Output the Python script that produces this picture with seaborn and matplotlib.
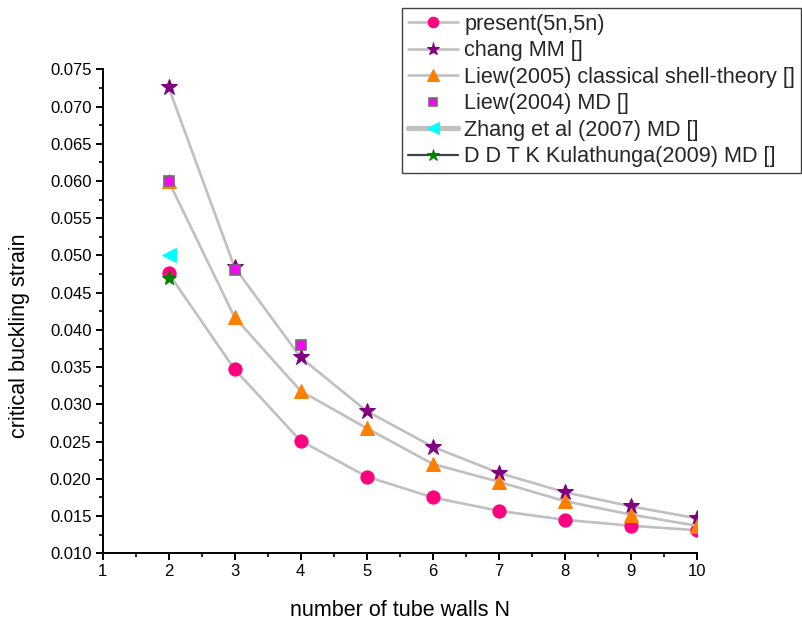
import matplotlib
matplotlib.use("Agg")
import matplotlib.pyplot as plt
import seaborn as sns
import numpy as np
from matplotlib.ticker import MultipleLocator, FormatStrFormatter

# ---- data ----
n_walls = [2, 3, 4, 5, 6, 7, 8, 9, 10]
present = [0.0476, 0.0347, 0.0251, 0.0203, 0.0175, 0.0157, 0.0145, 0.0137, 0.0131]
chang = [0.0726, 0.0484, 0.0363, 0.0291, 0.0243, 0.0208, 0.0182, 0.0163, 0.0147]
liew2005 = [0.0600, 0.0417, 0.0318, 0.0268, 0.0220, 0.0196, 0.0170, 0.0152, 0.0137]
liew2004_x = [2, 3, 4]
liew2004 = [0.0600, 0.0480, 0.0380]
zhang_x = [2]
zhang = [0.0500]
kula_x = [2]
kula = [0.0470]

labels = ["present(5n,5n)", "chang MM []", "Liew(2005) classical shell-theory []",
          "Liew(2004) MD []", "Zhang et al (2007) MD []", "D D T K Kulathunga(2009) MD []"]

sns.set_style("white")
plt.rcParams["font.family"] = ["Liberation Sans", "DejaVu Sans"]

fig = plt.figure(figsize=(8.03, 6.26), dpi=100)
ax = fig.add_axes([102.5 / 803, 1 - 553.3 / 626, (697 - 102.5) / 803, (553.3 - 69.3) / 626])

gray = "#c0c0c0"
lw = 1.9

sns.lineplot(x=n_walls, y=present, ax=ax, color=gray, lw=lw, marker="o", markersize=9.5,
             markerfacecolor="#ff0080", markeredgecolor="#ff0080", label=labels[0])
sns.lineplot(x=n_walls, y=chang, ax=ax, color=gray, lw=lw, marker="*", markersize=12,
             markerfacecolor="#800080", markeredgecolor="#800080", label=labels[1])
sns.lineplot(x=n_walls, y=liew2005, ax=ax, color=gray, lw=lw, marker="^", markersize=10.5,
             markerfacecolor="#ff8000", markeredgecolor="#ff8000", label=labels[2])
sns.lineplot(x=liew2004_x, y=liew2004, ax=ax, color=gray, linestyle="", marker="s", markersize=7,
             markerfacecolor="#ff00ff", markeredgecolor="#707070", markeredgewidth=1.2,
             label=labels[3])
sns.lineplot(x=zhang_x, y=zhang, ax=ax, color=gray, lw=3.8, marker="<", markersize=10.5,
             markerfacecolor="#00ffff", markeredgecolor="#00ffff", label=labels[4])
sns.lineplot(x=kula_x, y=kula, ax=ax, color="#404040", lw=1.6, marker="*", markersize=11,
             markerfacecolor="#008000", markeredgecolor="#008000", label=labels[5])

ax.set_xlim(1, 10)
ax.set_ylim(0.010, 0.075)
ax.xaxis.set_major_locator(MultipleLocator(1))
ax.xaxis.set_minor_locator(MultipleLocator(0.5))
ax.yaxis.set_major_locator(MultipleLocator(0.005))
ax.yaxis.set_minor_locator(MultipleLocator(0.0025))
ax.yaxis.set_major_formatter(FormatStrFormatter("%.3f"))

for s in ["top", "right"]:
    ax.spines[s].set_visible(False)
for s in ["left", "bottom"]:
    ax.spines[s].set_linewidth(1.4)
    ax.spines[s].set_color("black")

ax.tick_params(axis="both", which="major", direction="out", length=5, width=1.4,
               labelsize=12, colors="black", pad=3, bottom=True, left=True)
ax.tick_params(axis="both", which="minor", direction="out", length=3, width=1.2,
               colors="black", bottom=True, left=True)

ax.set_xlabel("number of tube walls N", fontsize=15.5, color="black")
ax.set_ylabel("critical buckling strain", fontsize=15.5, color="black")
ax.xaxis.set_label_coords(0.5, -0.097)
ax.yaxis.set_label_coords(-0.122, 0.45)

leg = ax.legend(loc="upper left", bbox_to_anchor=(402 / 803, 1 - 8 / 626),
                bbox_transform=fig.transFigure, fontsize=15.6, frameon=True,
                fancybox=False, edgecolor="#404040", framealpha=1,
                borderpad=0.28, labelspacing=0.25, handlelength=2.3,
                handletextpad=0.3, borderaxespad=0, markerscale=0.8)
leg.get_frame().set_linewidth(1.0)

fig.savefig("out.png", dpi=100)
